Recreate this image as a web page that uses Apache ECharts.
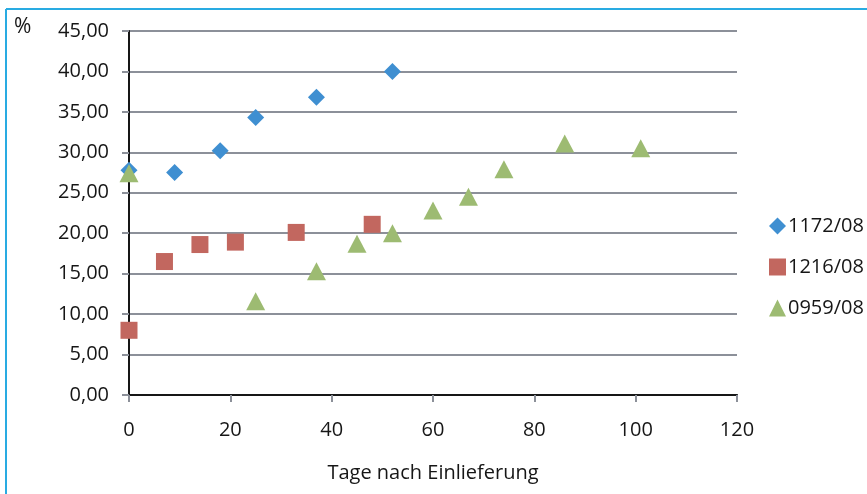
<!DOCTYPE html>
<html>
<head>
<meta charset="utf-8">
<script src="https://cdn.jsdelivr.net/npm/echarts@6/dist/echarts.min.js"></script>
<style>
  html, body { margin: 0; padding: 0; background: #fff; }
  #chart { width: 867px; height: 494px; }
</style>
</head>
<body>
<div id="chart"></div>
<script>
// Days after admission and measured percentage per sample
const seriesNames = ['1172/08', '1216/08', '0959/08'];

const days1172 = [0, 9, 18, 25, 37, 52];
const vals1172 = [27.8, 27.5, 30.2, 34.3, 36.8, 40.0];

const days1216 = [0, 7, 14, 21, 33, 48];
const vals1216 = [8.0, 16.5, 18.6, 18.9, 20.1, 21.1];

const days0959 = [0, 25, 37, 45, 52, 60, 67, 74, 86, 101];
const vals0959 = [27.4, 11.6, 15.3, 18.7, 20.0, 22.8, 24.5, 27.9, 31.1, 30.5];

const xTicks = [0, 20, 40, 60, 80, 100, 120];
const yTicks = [0, 5, 10, 15, 20, 25, 30, 35, 40, 45];

const colors = ['#3f8fd1', '#c2675f', '#9dbb72'];
const symbols = ['diamond', 'rect', 'triangle'];
const symbolSizes = [[17, 17], [17, 17], [19, 18]];

const pair = (xs, ys) => xs.map((x, i) => [x, ys[i]]);
const dataSets = [pair(days1172, vals1172), pair(days1216, vals1216), pair(days0959, vals0959)];

const FONT = '"Open Sans", "Noto Sans", sans-serif';
const TEXT = '#161616';
const gridColor = '#8c9099';

const chart = echarts.init(document.getElementById('chart'), null, { renderer: 'canvas' });

chart.setOption({
  animation: false,
  backgroundColor: '#ffffff',
  textStyle: { fontFamily: FONT },
  title: {
    text: '%',
    left: 9,
    top: 12,
    textStyle: { fontFamily: FONT, fontSize: 21, fontWeight: 'normal', color: TEXT }
  },
  grid: { left: 129, right: 130, top: 31, bottom: 99, containLabel: false },
  legend: {
    orient: 'vertical',
    left: 764,
    top: 211,
    itemGap: 21,
    itemWidth: 17,
    itemHeight: 17,
    textStyle: { fontFamily: FONT, fontSize: 20, color: TEXT, padding: [0, 0, 0, -3] },
    data: seriesNames
  },
  xAxis: [{
    type: 'value',
    min: xTicks[0],
    max: xTicks[xTicks.length - 1],
    interval: 20,
    name: 'Tage nach Einlieferung',
    nameLocation: 'middle',
    nameGap: 68,
    nameTextStyle: { fontFamily: FONT, fontSize: 20, color: TEXT },
    axisLine: { show: true, onZero: false, lineStyle: { color: gridColor, width: 2 } },
    axisTick: { show: true, length: 7, lineStyle: { color: gridColor, width: 2 } },
    axisLabel: { fontFamily: FONT, fontSize: 20, color: TEXT, margin: 25 },
    splitLine: { show: false }
  }, {
    type: 'value',
    position: 'top',
    min: 0, max: 120,
    axisLine: { show: true, lineStyle: { color: TEXT, width: 2 } },
    axisTick: { show: false },
    axisLabel: { show: false },
    splitLine: { show: false }
  }],
  yAxis: [{
    type: 'value',
    min: yTicks[0],
    max: yTicks[yTicks.length - 1],
    interval: 5,
    axisLine: { show: true, onZero: false, lineStyle: { color: gridColor, width: 2 } },
    axisTick: { show: true, length: 7, lineStyle: { color: gridColor, width: 2 } },
    axisLabel: {
      fontFamily: FONT, fontSize: 20, color: TEXT, margin: 20,
      formatter: v => v.toFixed(2).replace('.', ',')
    },
    splitLine: { show: true, lineStyle: { color: gridColor, width: 2 } }
  }, {
    type: 'value',
    position: 'right',
    min: 0, max: 45,
    axisLine: { show: true, lineStyle: { color: TEXT, width: 2 } },
    axisTick: { show: false },
    axisLabel: { show: false },
    splitLine: { show: false }
  }],
  graphic: [
    { type: 'line', shape: { x1: 6, y1: 9, x2: 867, y2: 9 }, style: { stroke: '#29abe2', lineWidth: 2 } },
    { type: 'line', shape: { x1: 6, y1: 9, x2: 6, y2: 494 }, style: { stroke: '#29abe2', lineWidth: 2 } }
  ],
  series: seriesNames.map((name, i) => ({
    name,
    type: 'scatter',
    xAxisIndex: 0,
    yAxisIndex: 0,
    symbol: symbols[i],
    symbolSize: symbolSizes[i],
    itemStyle: { color: colors[i], opacity: 1 },
    data: dataSets[i],
    z: 3 + (i === 2 ? 1 : 0)
  }))
});
</script>
</body>
</html>
